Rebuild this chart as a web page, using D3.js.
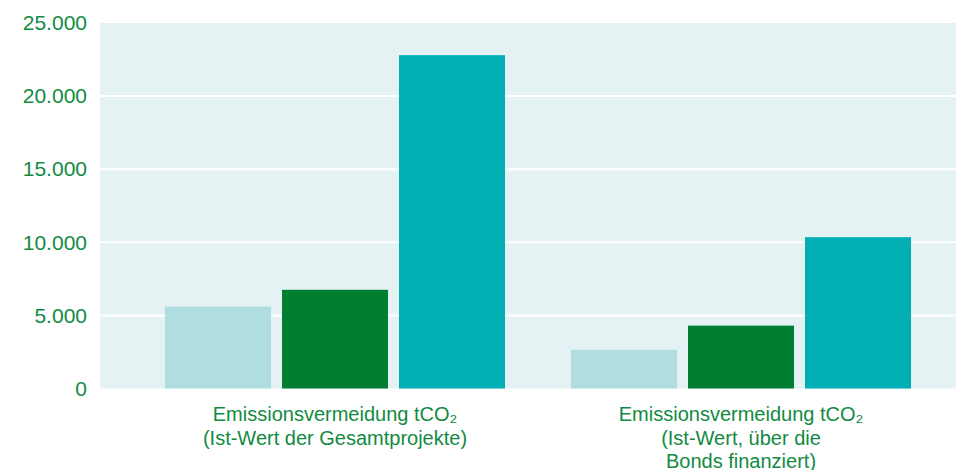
<!DOCTYPE html>
<html>
<head>
<meta charset="utf-8">
<script src="https://cdn.jsdelivr.net/npm/d3@7"></script>
<style>
  html, body { margin: 0; padding: 0; background: #fff; }
  svg { display: block; }
  text { font-family: "Liberation Sans", Arial, Helvetica, sans-serif; fill: #128a42; }
</style>
</head>
<body>
<svg id="chart" width="957" height="470"></svg>
<script>
// Category labels (each entry is a list of label lines)
const categories = [
  ["Emissionsvermeidung tCO₂", "(Ist-Wert der Gesamtprojekte)"],
  ["Emissionsvermeidung tCO₂", "(Ist-Wert, über die", "Bonds finanziert)"]
];
const seriesNames = ["Serie 1", "Serie 2", "Serie 3"];
const series1 = [5600, 2650];
const series2 = [6750, 4300];
const series3 = [22800, 10350];
const yTicks = [0, 5000, 10000, 15000, 20000, 25000];
const colors = ["#b0dde0", "#007f32", "#00aeb4"];

const svg = d3.select("#chart");
const plot = { left: 100, right: 956, top: 23, bottom: 388.5 };

const y = d3.scaleLinear().domain([0, 25000]).range([plot.bottom, plot.top]);
const x0 = d3.scaleBand().domain(d3.range(categories.length)).range([132, 944]);
const x1 = d3.scaleBand().domain(seriesNames).range([0, x0.bandwidth()]).paddingInner(0.094).paddingOuter(0.282);

// plot background
svg.append("rect")
  .attr("x", plot.left).attr("y", plot.top)
  .attr("width", plot.right - plot.left).attr("height", plot.bottom - plot.top)
  .attr("fill", "#e4f2f4");

// horizontal gridlines
svg.append("g").selectAll("line")
  .data(yTicks.filter(d => d > 0 && d < 25000))
  .join("line")
  .attr("x1", plot.left).attr("x2", plot.right)
  .attr("y1", d => y(d)).attr("y2", d => y(d))
  .attr("stroke", "#ffffff").attr("stroke-width", 2);

// y axis labels
const fmt = d => d3.format(",")(d).replace(/,/g, ".");
const yAxis = d3.axisLeft(y).tickValues(yTicks).tickFormat(fmt).tickSize(0).tickPadding(13);
const gy = svg.append("g").attr("transform", `translate(${plot.left},0)`).call(yAxis);
gy.select(".domain").remove();
gy.selectAll("text").attr("font-size", 21).attr("fill", "#128a42")
  .attr("font-family", "Liberation Sans, Arial, sans-serif");

// bars
const rows = categories.map((c, i) => [series1[i], series2[i], series3[i]]);
const groups = svg.append("g").selectAll("g")
  .data(rows).join("g")
  .attr("transform", (d, i) => `translate(${x0(i)},0)`);
groups.selectAll("rect")
  .data(d => d.map((v, j) => ({ v, j })))
  .join("rect")
  .attr("x", d => x1(seriesNames[d.j]))
  .attr("width", x1.bandwidth())
  .attr("y", d => y(d.v))
  .attr("height", d => y(0) - y(d.v))
  .attr("fill", d => colors[d.j]);

// category labels
const lab = svg.append("g").selectAll("text")
  .data(categories).join("text")
  .attr("text-anchor", "middle")
  .attr("font-size", 20)
  .attr("transform", (d, i) => `translate(${x0(i) + x0.bandwidth() / 2},421)`);
lab.selectAll("tspan")
  .data(d => d).join("tspan")
  .attr("x", 0)
  .attr("dy", (d, i) => i === 0 ? 0 : 23.5)
  .text(d => d);
</script>
</body>
</html>
